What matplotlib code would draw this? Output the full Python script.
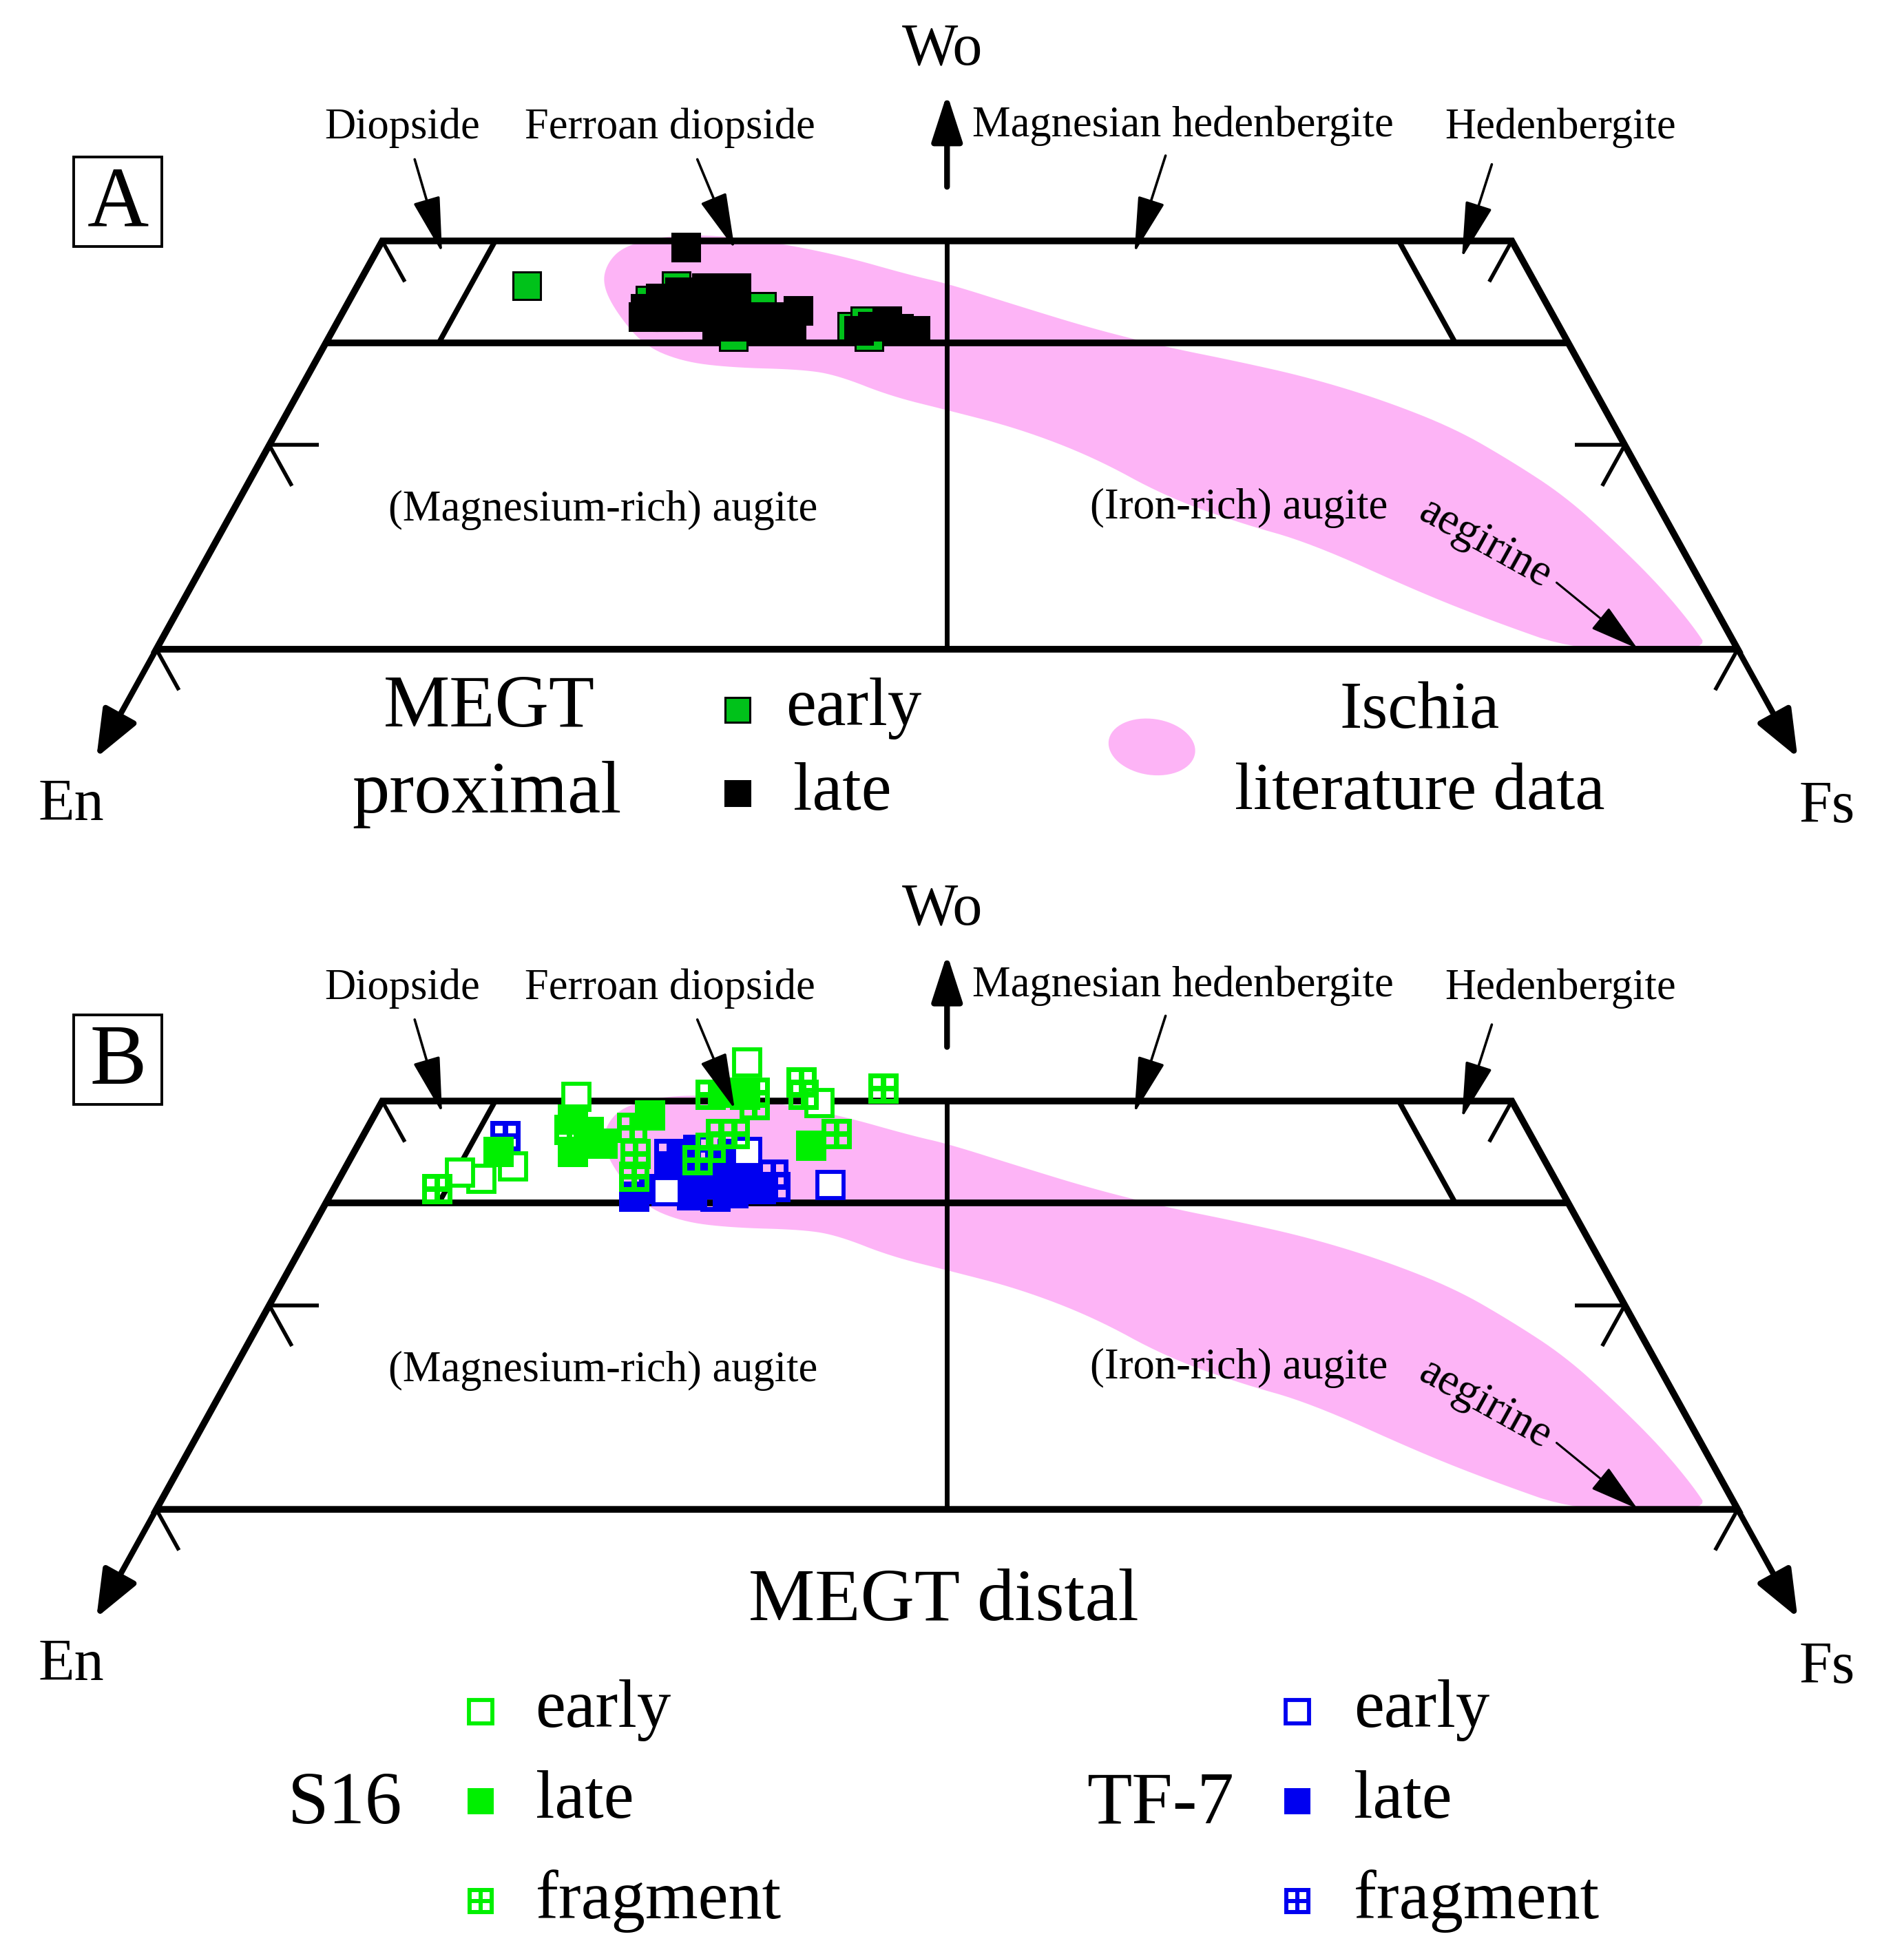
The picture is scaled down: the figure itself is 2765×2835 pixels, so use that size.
import numpy as np
import matplotlib.pyplot as plt
from matplotlib.path import Path
from matplotlib.patches import Polygon, Ellipse, Rectangle

plt.rcParams['font.family'] = ['Liberation Serif', 'DejaVu Serif']

# clinopyroxene compositions in mol% (En = 100 - Wo - Fs)
# A: MEGT proximal
prox_early_wo = [47.8, 47.8, 47.1, 46.3, 46.8, 45.8, 45.8, 46.1, 45.3, 45.3]
prox_early_fs = [7.5, 14.1, 13.3, 14.6, 18.4, 19.0, 22.9, 23.3, 23.9, 17.9]
prox_late_wo = [49.7, 46.7, 47.2, 47.5, 47.0, 46.3, 46.6, 46.7, 47.7, 46.7, 45.8, 46.3, 46.3,
                45.8, 45.8, 45.8, 46.1, 45.7, 45.6, 45.6, 45.8, 46.3, 46.3, 46.6, 47.7]
prox_late_fs = [13.6, 13.3, 13.7, 14.4, 15.2, 15.9, 15.0, 16.4, 16.8, 17.2, 18.0, 18.3, 19.5,
                20.2, 18.9, 23.8, 24.3, 25.0, 25.8, 23.3, 16.9, 13.4, 14.5, 20.1, 15.5]

# B: MEGT distal
s16_early_wo = [50.2, 51.9, 46.2, 46.5, 46.8, 49.9]
s16_early_fs = [8.5, 15.2, 6.3, 5.2, 7.4, 19.4]
s16_late_wo = [47.5, 49.1, 47.5, 47.9, 48.5, 49.3, 50.4, 47.8, 50.3]
s16_late_fs = [6.4, 8.9, 9.7, 10.8, 9.9, 12.2, 15.1, 20.1, 15.9]
s16_frag_wo = [45.7, 48.6, 48.7, 47.4, 46.3, 50.3, 48.4, 48.4, 47.1, 47.7, 50.4, 49.8, 50.9, 50.3, 48.4, 50.6]
s16_frag_fs = [4.6, 9.0, 11.7, 12.5, 13.0, 14.4, 15.8, 16.4, 15.4, 15.7, 16.3, 16.6, 18.1, 18.5, 20.9, 21.9]
tf7_early_wo = [45.6, 45.9, 47.5]
tf7_early_fs = [14.8, 21.9, 17.4]
tf7_late_wo = [45.3, 46.6, 46.3, 46.9, 46.3, 45.7, 45.5, 45.4, 45.7, 47.4, 47.4, 46.0]
tf7_late_fs = [13.5, 14.4, 15.7, 16.5, 17.9, 18.9, 17.8, 16.0, 14.2, 14.6, 16.8, 16.4]
tf7_frag_wo = [48.3, 47.4, 46.4, 45.8, 45.3, 47.6]
tf7_frag_fs = [6.3, 14.0, 19.1, 19.5, 17.1, 15.2]

# Ischia literature field (outline)
field_wo = [47.9, 48.9, 49.7, 50.2, 50.3, 50.0, 49.3, 48.3, 47.9, 46.8, 45.7, 44.8, 44.1, 43.3,
            42.2, 40.8, 39.2, 37.5, 35.3, 33.1, 31.1, 29.9, 29.9, 31.4, 32.8, 35.2, 36.2, 37.5,
            39.4, 40.8, 41.7, 42.4, 43.4, 43.7, 43.8, 44.1, 44.9, 46.6]
field_fs = [10.8, 10.5, 10.8, 12.1, 14.3, 17.0, 20.6, 24.3, 26.1, 29.8, 33.6, 37.3, 40.8, 44.4,
            48.2, 52.1, 55.4, 58.6, 61.9, 65.0, 67.5, 68.8, 63.0, 58.4, 54.5, 48.5, 44.8, 40.9,
            36.8, 32.8, 29.2, 26.3, 23.5, 21.8, 18.5, 16.2, 14.1, 12.0]

GREEN_A = '#00C21A'
GREEN = '#00F000'
BLUE = '#0000F0'
PINK = '#FDB4F6'


def tern(wo, fs):
    wo = np.asarray(wo, float)
    fs = np.asarray(fs, float)
    return fs + wo / 2.0, wo


def pt(wo, fs):
    return (float(fs + wo / 2.0), float(wo))


def chaikin(a, b, n=3):
    p = np.column_stack([a, b])
    for _ in range(n):
        q = np.roll(p, -1, axis=0)
        p = np.column_stack([0.75 * p + 0.25 * q, 0.25 * p + 0.75 * q]).reshape(-1, 2)
    return p[:, 0], p[:, 1]


def grid_square():
    b, w, g = 0.17, 0.25, 0.16
    verts = [(-0.5, -0.5), (0.5, -0.5), (0.5, 0.5), (-0.5, 0.5), (-0.5, -0.5)]
    codes = [Path.MOVETO, Path.LINETO, Path.LINETO, Path.LINETO, Path.CLOSEPOLY]
    for x0 in (-0.5 + b, -0.5 + b + w + g):
        for y0 in (-0.5 + b, -0.5 + b + w + g):
            verts += [(x0, y0), (x0, y0 + w), (x0 + w, y0 + w), (x0 + w, y0), (x0, y0)]
            codes += [Path.MOVETO, Path.LINETO, Path.LINETO, Path.LINETO, Path.CLOSEPOLY]
    return Path(verts, codes)


FRAG = grid_square()

REF_W, REF_H = 1529.0, 1568.0


def fp(x, y):
    return (x / REF_W, 1.0 - y / REF_H)


fig = plt.figure(figsize=(27.65, 28.35), dpi=100)
XLIM = (8.08, 92.36)
axA = fig.add_axes([0, 0, 1, 1], label='A')
axB = fig.add_axes([0, 0, 1, 1], label='B')
deco = fig.add_axes([0, 0, 1, 1], label='deco')
axA.set_ylim(-33.81, 61.80)
axB.set_ylim(8.32, 103.93)
for a in (axA, axB):
    a.set_xlim(*XLIM)
    a.axis('off')
    a.patch.set_visible(False)
deco.set_xlim(0, 1)
deco.set_ylim(0, 1)
deco.axis('off')
deco.patch.set_visible(False)


def thin_arrow(tail, tip, dy, lw=2.6, hl=1.7, hw=0.42):
    deco.annotate('', xy=fp(tip[0], tip[1] + dy), xytext=fp(tail[0], tail[1] + dy),
                  arrowprops=dict(arrowstyle='-|>,head_length=%g,head_width=%g' % (hl, hw),
                                  lw=lw, color='k', shrinkA=0, shrinkB=0, mutation_scale=30))


def draw_panel(ax, dy):
    fw, ff = chaikin(field_wo, field_fs)
    ax.add_patch(Polygon(np.column_stack(tern(fw, ff)), closed=True, fc=PINK, ec='none', zorder=1))

    k = dict(color='k', solid_capstyle='butt', zorder=4)
    ax.add_patch(Polygon(np.column_stack(tern([50, 50, 30, 30], [0, 50, 70, 0])), closed=True,
                         fill=False, ec='k', lw=7, joinstyle='miter', zorder=4))
    ax.plot(*tern([45, 45], [0, 55]), lw=7, **k)
    ax.plot(*tern([50, 30], [25, 35]), lw=5, **k)
    ax.plot(*tern([50, 45], [5, 5]), lw=5.5, **k)
    ax.plot(*tern([50, 45], [45, 50]), lw=5.5, **k)

    t = 2.0
    for wo0 in (50, 40, 30):
        ax.plot(*tern([wo0, wo0 - t], [0, t]), lw=4, **k)
        ax.plot(*tern([wo0, wo0 - t], [100 - wo0, 100 - wo0]), lw=4, **k)
    ax.plot(*tern([40, 40], [0, 2.2]), lw=4, **k)
    ax.plot(*tern([40, 40], [60, 57.8]), lw=4, **k)

    big = dict(color='k', lw=6, shrinkA=0, shrinkB=0, mutation_scale=40)
    ax.annotate('', xy=pt(24.7, 0), xytext=pt(30, 0),
                arrowprops=dict(arrowstyle='-|>,head_length=1.05,head_width=0.42', **big))
    ax.annotate('', xy=pt(24.7, 75.3), xytext=pt(30, 70),
                arrowprops=dict(arrowstyle='-|>,head_length=1.05,head_width=0.42', **big))
    ax.annotate('', xy=pt(57.2, 21.4), xytext=pt(52.65, 23.675),
                arrowprops=dict(arrowstyle='-|>,head_length=1.05,head_width=0.34', **big))

    tx = [('Wo', 757, 40, 62), ('En', 57, 647, 62), ('Fs', 1467, 649, 62),
          ('Diopside', 323, 103, 45), ('Ferroan diopside', 538, 103, 45),
          ('Magnesian hedenbergite', 950, 101, 45), ('Hedenbergite', 1253, 103, 45),
          ('(Magnesium-rich) augite', 484, 410, 45), ('(Iron-rich) augite', 995, 408, 45)]
    for s, x, y, size in tx:
        deco.text(*fp(x, y + dy), s, ha='center', va='center', fontsize=size)
    deco.text(*fp(1193, 437 + dy), 'aegirine', ha='center', va='center', fontsize=47,
              rotation=-29, rotation_mode='anchor')

    thin_arrow((333, 128), (355, 203), dy)
    thin_arrow((560, 128), (590, 200), dy)
    thin_arrow((936, 125), (911, 203), dy)
    thin_arrow((1198, 132), (1174, 207), dy)
    thin_arrow((1250, 468), (1315, 521), dy, lw=2.2, hl=1.5, hw=0.42)


draw_panel(axA, 0)
draw_panel(axB, 691)

# panel A data
sqA = dict(ls='none', marker='s', ms=29, mec='k', mew=2.2, zorder=6)
axA.plot(*tern(prox_early_wo, prox_early_fs), mfc=GREEN_A, **sqA)
axA.plot(*tern(prox_late_wo, prox_late_fs), mfc='k', **sqA)

# panel B data
openB = dict(ls='none', marker='s', ms=28, mew=4.2, mfc='white')
fillB = dict(ls='none', marker='s', ms=32, mew=0)
fragB = dict(ls='none', marker=FRAG, ms=32, mew=0)
axB.plot(*tern(tf7_late_wo, tf7_late_fs), color=BLUE, zorder=6, **fillB)
axB.plot(*tern(tf7_early_wo, tf7_early_fs), mec=BLUE, zorder=6, **openB)
axB.plot(*tern(tf7_frag_wo, tf7_frag_fs), color=BLUE, zorder=6, **fragB)
axB.plot(*tern(s16_early_wo, s16_early_fs), mec=GREEN, zorder=7, **openB)
axB.plot(*tern(s16_frag_wo, s16_frag_fs), color=GREEN, zorder=7, **fragB)
axB.plot(*tern(s16_late_wo, s16_late_fs), color=GREEN, zorder=7, **fillB)

# boxed panel letters
for letter, dy in (('A', 0), ('B', 689)):
    x0, y0 = fp(59, 198 + dy)
    deco.add_patch(Rectangle((x0, y0), 71 / REF_W, 72 / REF_H, fill=False, ec='k', lw=2.8))
    deco.text(*fp(95, 165 + dy), letter, ha='center', va='center', fontsize=89)

# legend A
deco.text(*fp(393, 569), 'MEGT', ha='center', va='center', fontsize=78)
deco.text(*fp(391, 638), 'proximal', ha='center', va='center', fontsize=78)
deco.plot(*fp(592, 570), marker='s', ms=26, mfc=GREEN_A, mec='k', mew=2.2)
deco.plot(*fp(592, 637), marker='s', ms=26, mfc='k', mec='k', mew=2.2)
deco.text(*fp(631, 569), 'early', ha='left', va='center', fontsize=71)
deco.text(*fp(637, 637), 'late', ha='left', va='center', fontsize=71)
deco.add_patch(Ellipse(fp(925, 600), 70 / REF_W, 45 / REF_H, angle=-8, fc=PINK, ec='none'))
deco.text(*fp(1140, 572), 'Ischia', ha='center', va='center', fontsize=70)
deco.text(*fp(1140, 637), 'literature data', ha='center', va='center', fontsize=70)

# legend B
deco.text(*fp(758, 1287), 'MEGT distal', ha='center', va='center', fontsize=78)
deco.text(*fp(277, 1450), 'S16', ha='center', va='center', fontsize=77)
deco.text(*fp(932, 1450), 'TF-7', ha='center', va='center', fontsize=77)
for xm, xt, col in ((386, 430, GREEN), (1042, 1087, BLUE)):
    deco.plot(*fp(xm, 1375), marker='s', ms=24, mfc='white', mec=col, mew=4.2)
    deco.plot(*fp(xm, 1447), marker='s', ms=28, color=col, mew=0)
    deco.plot(*fp(xm, 1527), marker=FRAG, ms=28, color=col, mew=0)
    deco.text(*fp(xt, 1374), 'early', ha='left', va='center', fontsize=71)
    deco.text(*fp(xt, 1447), 'late', ha='left', va='center', fontsize=71)
    deco.text(*fp(xt, 1527), 'fragment', ha='left', va='center', fontsize=71)

fig.savefig('out.png', dpi=100)
